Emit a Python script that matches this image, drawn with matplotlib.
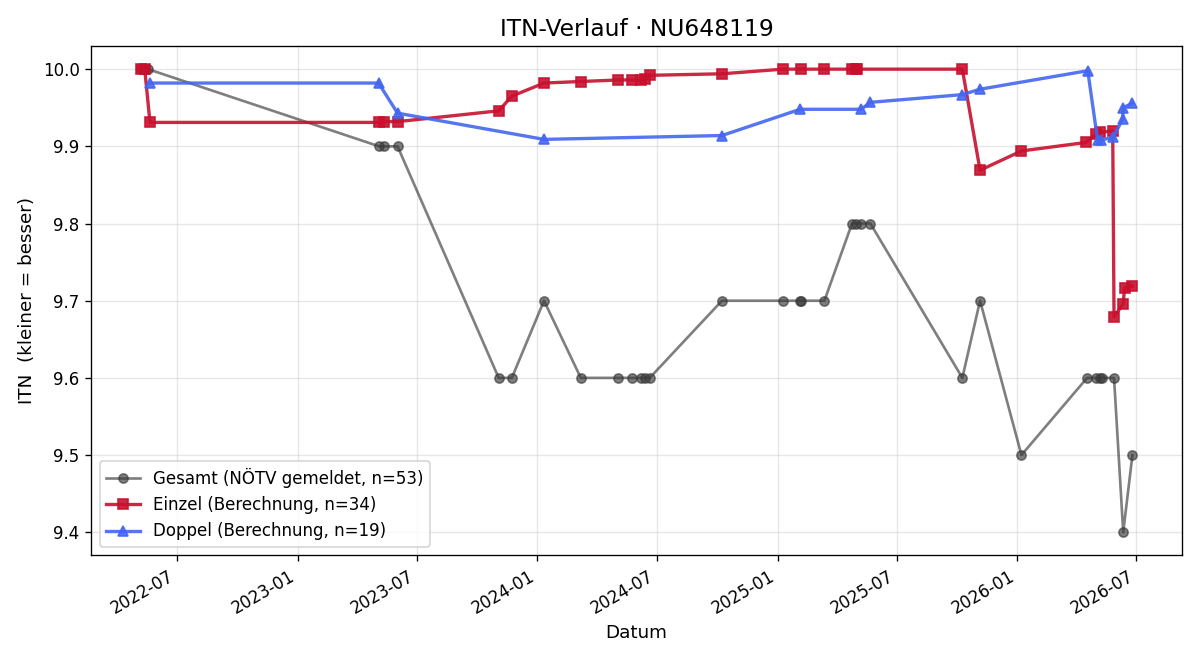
import pandas as pd
import matplotlib
matplotlib.use("Agg")
import matplotlib.pyplot as plt
import matplotlib.dates as mdates

# Gesamt (NÖTV gemeldet)
gesamt_dates = ["2022-05-07", "2022-05-13", "2022-05-18",
                "2023-05-05", "2023-05-12", "2023-06-02",
                "2023-11-03", "2023-11-23", "2024-01-11", "2024-03-07",
                "2024-05-03", "2024-05-24", "2024-06-07", "2024-06-13", "2024-06-20",
                "2024-10-08", "2025-01-09", "2025-02-04", "2025-02-05", "2025-03-13",
                "2025-04-24", "2025-04-30", "2025-05-08", "2025-05-22",
                "2025-10-09", "2025-11-05", "2026-01-07",
                "2026-04-17", "2026-05-01", "2026-05-06", "2026-05-09",
                "2026-05-28", "2026-06-11", "2026-06-25"]
gesamt_itn = [10.0, 10.0, 10.0,
              9.9, 9.9, 9.9,
              9.6, 9.6, 9.7, 9.6,
              9.6, 9.6, 9.6, 9.6, 9.6,
              9.7, 9.7, 9.7, 9.7, 9.7,
              9.8, 9.8, 9.8, 9.8,
              9.6, 9.7, 9.5,
              9.6, 9.6, 9.6, 9.6,
              9.6, 9.4, 9.5]

# Einzel (Berechnung)
einzel_dates = ["2022-05-07", "2022-05-13", "2022-05-21",
                "2023-05-05", "2023-05-12", "2023-06-02",
                "2023-11-03", "2023-11-23", "2024-01-11", "2024-03-07",
                "2024-05-03", "2024-05-24", "2024-06-07", "2024-06-13", "2024-06-20",
                "2024-10-08", "2025-01-09", "2025-02-05", "2025-03-13",
                "2025-04-24", "2025-04-30", "2025-05-01",
                "2025-10-09", "2025-11-05", "2026-01-07",
                "2026-04-15", "2026-05-01", "2026-05-06", "2026-05-26",
                "2026-05-28", "2026-06-11", "2026-06-13", "2026-06-25"]
einzel_itn = [10.0, 10.0, 9.931,
              9.931, 9.932, 9.932,
              9.946, 9.965, 9.982, 9.984,
              9.986, 9.986, 9.986, 9.987, 9.992,
              9.994, 10.0, 10.0, 10.0,
              10.0, 10.0, 10.0,
              10.0, 9.869, 9.894,
              9.905, 9.916, 9.918, 9.920,
              9.679, 9.696, 9.717, 9.719]

# Doppel (Berechnung)
doppel_dates = ["2022-05-21", "2023-05-04", "2023-06-02",
                "2024-01-11", "2024-10-08", "2025-02-04",
                "2025-05-08", "2025-05-22", "2025-10-09", "2025-11-05",
                "2026-04-18", "2026-05-03", "2026-05-08", "2026-05-27",
                "2026-06-10", "2026-06-11", "2026-06-25"]
doppel_itn = [9.982, 9.982, 9.943,
              9.909, 9.914, 9.948,
              9.948, 9.957, 9.967, 9.974,
              9.998, 9.908, 9.908, 9.912,
              9.935, 9.950, 9.956]

g_dates = pd.to_datetime(gesamt_dates)
e_dates = pd.to_datetime(einzel_dates)
d_dates = pd.to_datetime(doppel_dates)

fig, ax = plt.subplots(figsize=(10, 5.5), dpi=120)

ax.plot(g_dates, gesamt_itn, marker='o', linestyle='-', color='#3a3a3a', alpha=0.65,
        linewidth=1.6, markersize=5.5, label='Gesamt (NÖTV gemeldet, n=53)')
ax.plot(e_dates, einzel_itn, marker='s', linestyle='-', color='#c8102e', alpha=0.9,
        linewidth=2, markersize=6.5, label='Einzel (Berechnung, n=34)')
ax.plot(d_dates, doppel_itn, marker='^', linestyle='-', color='#4466f0', alpha=0.9,
        linewidth=2, markersize=6.5, label='Doppel (Berechnung, n=19)')

ax.set_title('ITN-Verlauf · NU648119', fontsize=14)
ax.set_xlabel('Datum', fontsize=11)
ax.set_ylabel('ITN  (kleiner = besser)', fontsize=11)
ax.xaxis.set_major_locator(mdates.MonthLocator(bymonth=[1, 7]))
ax.xaxis.set_major_formatter(mdates.DateFormatter('%Y-%m'))
ax.grid(True, alpha=0.3)
ax.legend(loc='lower left')
fig.autofmt_xdate()

fig.tight_layout()
fig.savefig('out.png')
